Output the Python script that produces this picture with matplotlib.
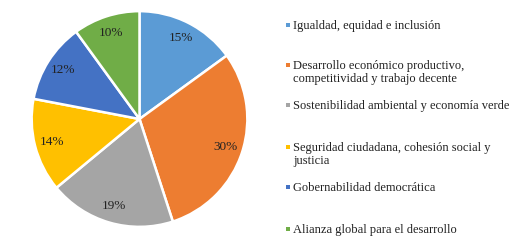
import matplotlib
matplotlib.use("Agg")
import matplotlib.pyplot as plt
from matplotlib.patches import Rectangle

categories = [
    "Igualdad, equidad e inclusión",
    "Desarrollo económico productivo,\ncompetitividad y trabajo decente",
    "Sostenibilidad ambiental y economía verde",
    "Seguridad ciudadana, cohesión social y\njusticia",
    "Gobernabilidad democrática",
    "Alianza global para el desarrollo",
]
values = [15, 30, 19, 14, 12, 10]
colors = ["#5B9BD5", "#ED7D31", "#A5A5A5", "#FFC000", "#4472C4", "#70AD47"]

plt.rcParams["font.family"] = ["Liberation Serif", "DejaVu Serif"]

W, H = 520, 245
fig = plt.figure(figsize=(W / 100, H / 100), dpi=100)
cx, cy, r = 139.5, 119, 110
ax = fig.add_axes([(cx - r) / W, 1 - (cy + r) / H, 2 * r / W, 2 * r / H])
wedges, texts, autotexts = ax.pie(
    values, colors=colors, startangle=90, counterclock=False,
    autopct=lambda p: f"{p:.0f}%", pctdistance=0.84, radius=1,
    wedgeprops=dict(edgecolor="white", linewidth=1.8),
    textprops=dict(fontsize=9.5, color="#222222"),
)
ax.set_xlim(-1.02, 1.02)
ax.set_ylim(-1.02, 1.02)
ax.set_aspect("equal")
ax.axis("off")

# legend entries (y pixel of the first line's centre)
ys = [25, 65, 105, 147, 187, 229]
for lab, col, y in zip(categories, colors, ys):
    fig.patches.append(Rectangle((286 / W, 1 - (y + 2) / H), 4 / W, 4 / H,
                                 transform=fig.transFigure, facecolor=col,
                                 edgecolor="none"))
    fig.text(293 / W, 1 - (y - 5.5) / H, lab, fontsize=9, va="top", ha="left",
             color="#222222", linespacing=1.2)

fig.savefig("out.png", dpi=100)
